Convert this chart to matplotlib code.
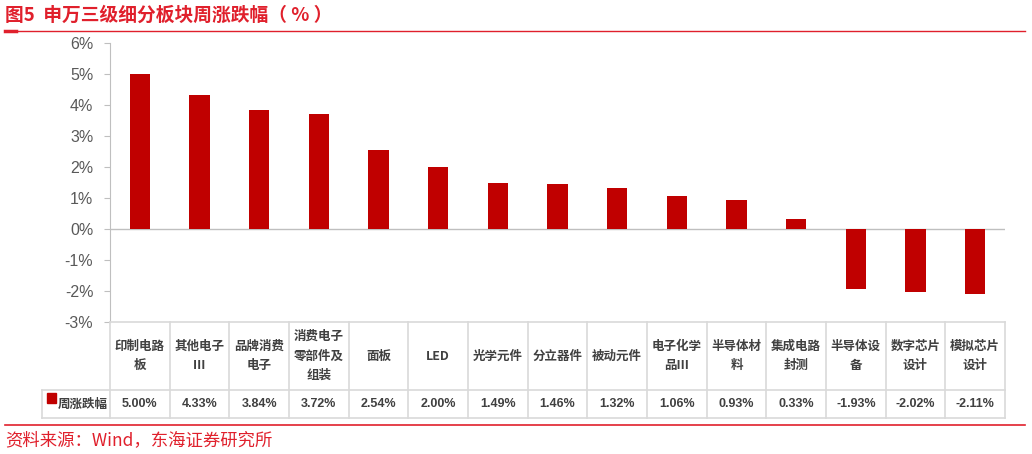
import matplotlib.pyplot as plt
from matplotlib.lines import Line2D
from matplotlib.patches import Rectangle

plt.rcParams['font.family'] = ['Liberation Sans', 'Noto Sans CJK SC', 'DejaVu Sans']

# data
categories = ['印制电路\n板', '其他电子\nⅢ', '品牌消费\n电子', '消费电子\n零部件及\n组装', '面板', 'LED',
              '光学元件', '分立器件', '被动元件', '电子化学\n品Ⅲ', '半导体材\n料', '集成电路\n封测',
              '半导体设\n备', '数字芯片\n设计', '模拟芯片\n设计']
weekly_change = [5.00, 4.33, 3.84, 3.72, 2.54, 2.00, 1.49, 1.46, 1.32, 1.06, 0.93, 0.33, -1.93, -2.02, -2.11]
series_name = '周涨跌幅'
y_ticks = [-3, -2, -1, 0, 1, 2, 3, 4, 5, 6]

W, H = 1032, 454
red = '#E0202C'
bar_red = '#C00000'
grid_gray = '#D9D9D9'
text_gray = '#404040'
cjk = ['Noto Sans CJK SC', 'DejaVu Sans']

fig = plt.figure(figsize=(W / 100, H / 100), dpi=100)

# main chart area
x0, x1 = 110, 1005
y_top, y_bot = 43, 322
ax = fig.add_axes([x0 / W, 1 - y_bot / H, (x1 - x0) / W, (y_bot - y_top) / H])
n = len(categories)
xs = list(range(n))
ax.bar(xs, weekly_change, width=0.34, color=bar_red, zorder=3)
ax.set_xlim(-0.5, n - 0.5)
ax.set_ylim(-3, 6)
ax.set_yticks(y_ticks)
ax.set_yticklabels([f'{t}%' for t in y_ticks], fontsize=11.5, color='#595959')
ax.axhline(0, color='#BFBFBF', lw=1, zorder=2)
for s in ['top', 'right', 'bottom']:
    ax.spines[s].set_visible(False)
ax.spines['left'].set_color('#BFBFBF')
ax.tick_params(axis='y', length=4, color='#BFBFBF', pad=8)
ax.set_xticks([])

# data table below the chart
t_top, t_bot, t_mid = 322, 418, 390
tax = fig.add_axes([x0 / W, 1 - t_bot / H, (x1 - x0) / W, (t_bot - t_top) / H])
tax.set_xlim(-0.5, n - 0.5)
tax.set_ylim(0, 1)
tax.axis('off')
mid = (t_bot - t_mid) / (t_bot - t_top)
leg_left = -0.5 - (x0 - 42) / ((x1 - x0) / n)
lkw = dict(color=grid_gray, lw=1.2, clip_on=False)
tax.add_line(Line2D([-0.5, n - 0.5], [1, 1], **lkw))
tax.add_line(Line2D([leg_left, n - 0.5], [mid, mid], **lkw))
tax.add_line(Line2D([leg_left, n - 0.5], [0, 0], **lkw))
tax.add_line(Line2D([leg_left, leg_left], [0, mid], **lkw))
for i in range(n + 1):
    tax.add_line(Line2D([i - 0.5, i - 0.5], [0, 1], **lkw))

for i, (c, v) in enumerate(zip(categories, weekly_change)):
    tax.text(i, (1 + mid) / 2, c, ha='center', va='center', fontsize=9, fontweight='bold',
             color=text_gray, family=cjk, linespacing=1.65)
    tax.text(i, mid / 2, f'{v:.2f}%', ha='center', va='center', fontsize=9, fontweight='bold',
             color=text_gray, family=['Liberation Sans', 'DejaVu Sans'])

# legend key in the table
tax.add_patch(Rectangle((leg_left + 0.08, mid * 0.55), 0.15, 0.1, color=bar_red, clip_on=False,
                        transform=tax.transData))
tax.text(leg_left + 0.26, mid / 2, series_name, ha='left', va='center', fontsize=9,
         fontweight='bold', color=text_gray, family=cjk)

# title, rules and source
fig.text(5 / W, 1 - 15 / H, '图5  申万三级细分板块周涨跌幅（ % ）', ha='left', va='center',
         fontsize=13.5, fontweight='bold', color=red, family=cjk)
fig.add_artist(Line2D([5 / W, 1025 / W], [1 - 31 / H] * 2, color=red, lw=1, transform=fig.transFigure))
fig.add_artist(Line2D([5 / W, 16 / W], [1 - 31 / H] * 2, color=red, lw=2.5, transform=fig.transFigure))
fig.add_artist(Line2D([5 / W, 1025 / W], [1 - 425 / H] * 2, color=red, lw=1.2, transform=fig.transFigure))
fig.text(5 / W, 1 - 440 / H, '资料来源：Wind，东海证券研究所', ha='left', va='center',
         fontsize=12.5, color=red, family=cjk)

fig.savefig('out.png', dpi=100)
